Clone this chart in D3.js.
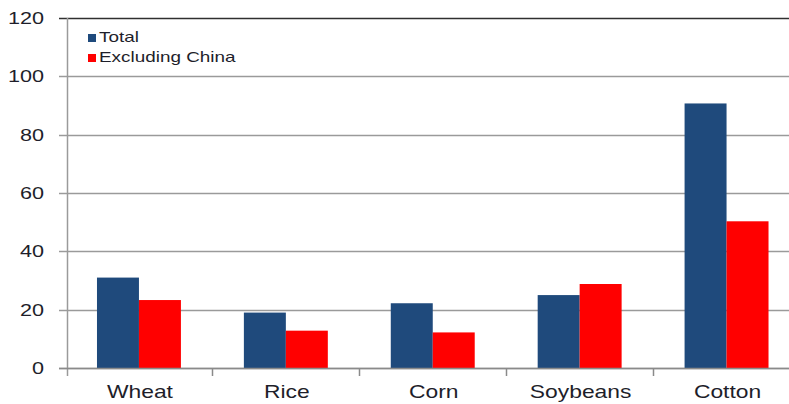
<!DOCTYPE html>
<html>
<head>
<meta charset="utf-8">
<script src="https://cdn.jsdelivr.net/npm/d3@7"></script>
<style>
  body { margin: 0; background: #fff; }
  text { font-family: "Liberation Sans", Arial, sans-serif; fill: #1e1e2a; }
</style>
</head>
<body>
<div id="chart"></div>
<script>
// data
var categories = ["Wheat", "Rice", "Corn", "Soybeans", "Cotton"];
var seriesNames = ["Total", "Excluding China"];
var totalValues = [31, 19, 22.2, 25, 90.7];
var exChinaValues = [23.3, 12.8, 12.2, 28.8, 50.3];
var yTicks = [0, 20, 40, 60, 80, 100, 120];

var colors = ["#1f4a7c", "#ff0000"];
var width = 789, height = 404;
var stretch = 1.27; // text in the picture is stretched sideways

var svg = d3.select("#chart").append("svg")
    .attr("width", width)
    .attr("height", height);

//scales
var x = d3.scaleBand()
    .domain(categories)
    .range([65.5, 800])
    .padding(0);

var xs = d3.scaleBand()
    .domain(seriesNames)
    .range([0, x.bandwidth()])
    .paddingInner(0)
    .paddingOuter(0.75);

var y = d3.scaleLinear()
    .domain([0, 120])
    .range([368, 18]);

//gridlines
svg.append("g")
    .selectAll("line")
    .data(yTicks)
    .enter().append("line")
    .attr("x1", 59)
    .attr("x2", width)
    .attr("y1", (d) => Math.round(y(d)) + 0.5)
    .attr("y2", (d) => Math.round(y(d)) + 0.5)
    .style("stroke", (d) => d == 120 ? "#303030" : "#9a9a9a")
    .style("stroke-width", 1.5);

//y labels
svg.append("g")
    .selectAll("text")
    .data(yTicks)
    .enter().append("text")
    .attr("transform", (d) => "translate(44," + (y(d) + 6) + ") scale(" + stretch + ",1)")
    .style("text-anchor", "end")
    .style("font-size", "17px")
    .text((d) => d);

//bars
var rows = categories.map((c, i) => ({cat: c, values: [totalValues[i], exChinaValues[i]]}));

var groups = svg.append("g")
    .selectAll("g")
    .data(rows)
    .enter().append("g")
    .attr("transform", (d) => "translate(" + x(d.cat) + ",0)");

groups.selectAll("rect")
    .data((d) => d.values.map((v, j) => ({name: seriesNames[j], value: v, color: colors[j]})))
    .enter().append("rect")
    .attr("x", (d) => xs(d.name))
    .attr("width", xs.bandwidth())
    .attr("y", (d) => y(d.value))
    .attr("height", (d) => y(0) - y(d.value))
    .style("fill", (d) => d.color);

//axes lines
svg.append("line")
    .attr("x1", 67.5).attr("x2", 67.5)
    .attr("y1", 18).attr("y2", 376)
    .style("stroke", "#9a9a9a")
    .style("stroke-width", 1.5);

svg.append("line")
    .attr("x1", 59).attr("x2", width)
    .attr("y1", 368.5).attr("y2", 368.5)
    .style("stroke", "#8a8a8a")
    .style("stroke-width", 1.5);

svg.append("g")
    .selectAll("line")
    .data(categories.slice(1))
    .enter().append("line")
    .attr("x1", (d) => Math.round(x(d)) + 0.5)
    .attr("x2", (d) => Math.round(x(d)) + 0.5)
    .attr("y1", 368)
    .attr("y2", 376)
    .style("stroke", "#8a8a8a")
    .style("stroke-width", 1.5);

//x labels
svg.append("g")
    .selectAll("text")
    .data(categories)
    .enter().append("text")
    .attr("transform", (d) => "translate(" + (x(d) + x.bandwidth() / 2 + 1) + ",398) scale(" + stretch + ",1)")
    .style("text-anchor", "middle")
    .style("font-size", "18px")
    .text((d) => d);

//legend
var legend = svg.append("g")
    .selectAll("g")
    .data(seriesNames)
    .enter().append("g")
    .attr("transform", (d, i) => "translate(88," + (34 + i * 20) + ")");

legend.append("rect")
    .attr("width", 8)
    .attr("height", 8)
    .style("fill", (d, i) => colors[i]);

legend.append("text")
    .attr("transform", "translate(11,8) scale(1.35,1)")
    .style("font-size", "14px")
    .text((d) => d);
</script>
</body>
</html>
